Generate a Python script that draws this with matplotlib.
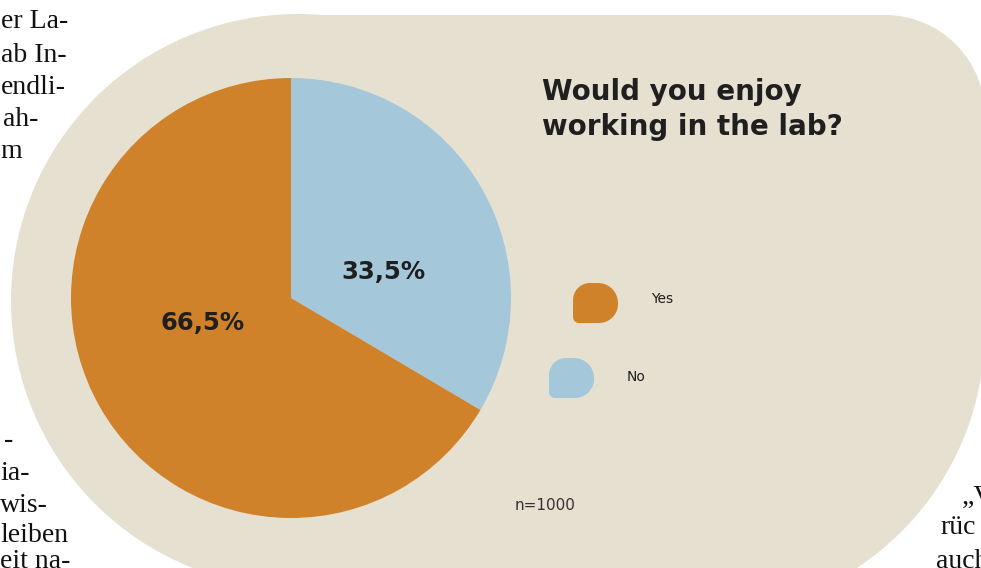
import numpy as np
import matplotlib.pyplot as plt
from matplotlib.patches import Circle, Rectangle, PathPatch
from matplotlib.path import Path

# survey data
answers = ['No', 'Yes']
shares = [33.5, 66.5]
colors = ['#a5c7da', '#cf8229']
title_lines = ['Would you enjoy', 'working in the lab?']
sample_note = 'n=1000'

BEIGE = '#e6e0d1'
INK = '#1f1f1f'
W, H = 981, 568


def blob_path(x0, y0, w, h, radii, n=20):
    """Rounded rectangle with a separate radius per corner (tl, tr, br, bl), y pointing down."""
    tl, tr, br, bl = radii
    corners = [
        ((x0 + tl, y0 + tl), tl, 180, 270),
        ((x0 + w - tr, y0 + tr), tr, 270, 360),
        ((x0 + w - br, y0 + h - br), br, 0, 90),
        ((x0 + bl, y0 + h - bl), bl, 90, 180),
    ]
    pts = []
    for (cx, cy), r, a0, a1 in corners:
        t = np.radians(np.linspace(a0, a1, n))
        pts += list(zip(cx + r * np.cos(t), cy + r * np.sin(t)))
    pts.append(pts[0])
    codes = [Path.MOVETO] + [Path.LINETO] * (len(pts) - 2) + [Path.CLOSEPOLY]
    return Path(pts, codes)


fig = plt.figure(figsize=(W / 100, H / 100), dpi=100)
ax = fig.add_axes([0, 0, 1, 1])
fig.patch.set_facecolor('white')

# beige backdrop: big left circle, flat top, rounded top-right, big bottom-right arc
for p in [Circle((298, 301), 287),
          Circle((700, 330), 285),
          Rectangle((298, 15), 402, 620),
          Rectangle((298, 15), 587, 315),
          Rectangle((885, 115), 100, 215),
          Circle((885, 115), 100)]:
    p.set_facecolor(BEIGE)
    p.set_edgecolor('none')
    ax.add_patch(p)

# pie (y axis is flipped, so counterclock in data = clockwise on screen)
wedges, _ = ax.pie(shares, colors=colors, startangle=-90, counterclock=True,
                   radius=220, center=(291, 298),
                   wedgeprops=dict(linewidth=0))

pct_pos = [(383, 272), (203, 323)]
for v, (x, y) in zip(shares, pct_pos):
    ax.text(x, y, f'{v:.1f}%'.replace('.', ','), ha='center', va='center',
            fontsize=17.5, fontweight='bold', family='DejaVu Sans', color=INK)

for i, line in enumerate(title_lines):
    ax.text(542, 100 + i * 35, line, ha='left', va='baseline', fontsize=20,
            fontweight='bold', family='DejaVu Sans', color=INK)

# legend with blob markers
legend_items = [('Yes', colors[1], (573, 283), (651, 299)),
                ('No', colors[0], (549, 358), (627, 377))]
for label, c, (bx, by), (tx, ty) in legend_items:
    ax.add_patch(PathPatch(blob_path(bx, by, 45, 40, (17, 20, 19, 6)),
                           facecolor=c, edgecolor='none'))
    ax.text(tx, ty, label, ha='left', va='center', fontsize=10,
            family='DejaVu Sans', color=INK)

ax.text(545, 506, sample_note, ha='center', va='center', fontsize=11,
        family='DejaVu Sans', color='#333333')

# cut-off body text of the surrounding magazine page
left_lines = [(1, 22, 'er La-'), (1, 55, 'ab In-'), (1, 88, 'endli-'),
              (3, 120, 'ah-'), (0, 152, 'm'), (4, 440, '-'), (0, 473, 'ia-'),
              (0, 505, 'wis-'), (0, 535, 'leiben'), (0, 561, 'eit na-')]
for x, y, s in left_lines:
    ax.text(x, y, s, ha='left', va='center', fontsize=20,
            family='Liberation Serif', color='#111111')
right_lines = [(962, 497, '„V'), (940, 528, 'rüc'), (936, 561, 'auch')]
for x, y, s in right_lines:
    ax.text(x, y, s, ha='left', va='center', fontsize=20,
            family='Liberation Serif', color='#111111')

ax.set_xlim(0, W)
ax.set_ylim(H, 0)
ax.set_aspect('auto')
ax.axis('off')

fig.savefig('out.png', dpi=100)
